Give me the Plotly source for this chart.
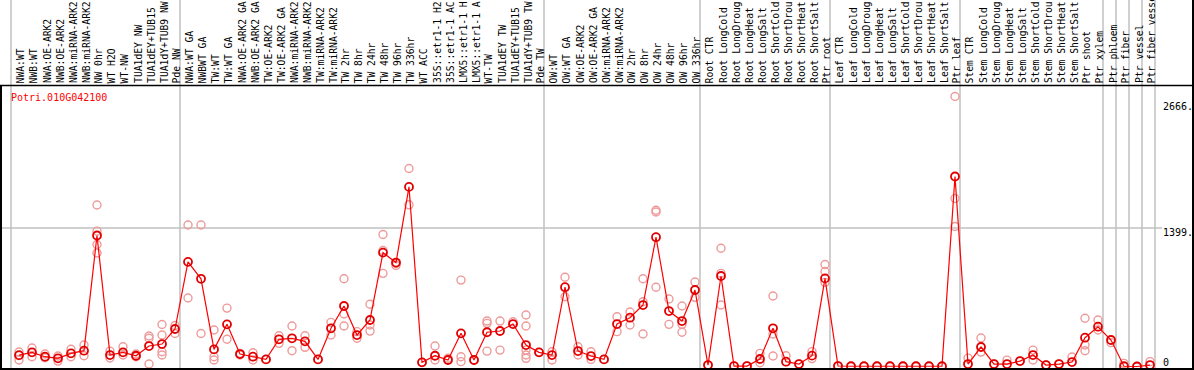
import plotly.graph_objects as go

W, H = 1194, 370

labels = [
    "NWA:WT", "NWB:WT", "NWA:OE-ARK2", "NWB:OE-ARK2", "NWA:miRNA-ARK2", "NWB:miRNA-ARK2",
    "NW 0hr", "WT H2O", "WT-NW", "TUA1dEY NW", "TUA1dEY+TUB15", "TUA1dY+TUB9 NW", "Pde NW",
    "NWA:WT GA", "NWBWT GA", "TW:WT", "TW:WT GA", "NWA:OE-ARK2 GA", "NWB:OE-ARK2 GA",
    "TW:OE-ARK2", "TW:OE-ARK2 GA", "NWA:miRNA-ARK2", "NWB:miRNA-ARK2", "TW:miRNA-ARK2",
    "TW:miRNA-ARK2", "TW 2hr", "TW 8hr", "TW 24hr", "TW 48hr", "TW 96hr", "TW 336hr",
    "WT ACC", "35S::etr1-1 H2", "35S::etr1-1 AC", "LMX5::etr1-1 H", "LMX5::etr1-1 A",
    "WT-TW", "TUA1dEY TW", "TUA1dEY+TUB15", "TUA1dY+TUB9 TW", "Pde TW",
    "OW:WT", "OW:WT GA", "OW:OE-ARK2", "OW:OE-ARK2 GA", "OW:miRNA-ARK2", "OW:miRNA-ARK2",
    "OW 2hr", "OW 8hr", "OW 24hr", "OW 48hr", "OW 96hr", "OW 336hr",
    "Root CTR", "Root LongCold", "Root LongDroug", "Root LongHeat", "Root LongSalt",
    "Root ShortCold", "Root ShortDrou", "Root ShortHeat", "Root ShortSalt", "Ptr root",
    "Leaf CTR", "Leaf LongCold", "Leaf LongDroug", "Leaf LongHeat", "Leaf LongSalt",
    "Leaf ShortCold", "Leaf ShortDrou", "Leaf ShortHeat", "Leaf ShortSalt", "Ptr leaf",
    "Stem CTR", "Stem LongCold", "Stem LongDroug", "Stem LongHeat", "Stem LongSalt",
    "Stem ShortCold", "Stem ShortDrou", "Stem ShortHeat", "Stem ShortSalt", "Ptr shoot",
    "Ptr xylem", "Ptr phloem", "Ptr fiber", "Ptr vessel", "Ptr fiber vessel",
]

means = [
    115, 143, 99, 83, 133, 160, 1323, 116, 143, 109, 207, 227, 379,
    1057, 886, 173, 426, 126, 99, 72, 275, 285, 254, 72, 386, 611, 318, 470, 1150, 1050, 1814,
    42, 109, 66, 335, 66, 346, 359, 429, 217, 143,
    116, 801, 156, 106, 72, 429, 493, 621, 1306, 560, 459, 773,
    15, 914, 5, 5, 76, 386, 49, 25, 110, 890,
    5, 3, 3, 3, 3, 3, 3, 3, 3, 1919,
    25, 197, 25, 25, 55, 116, 15, 25, 45, 291,
    402, 268, 3, 0, 15,
]

replicates = [
    [146, 66, 110], [187, 99], [126, 89], [106, 55], [174, 99], [217, 109],
    [1631, 1367, 1232, 1146], [156, 86], [200, 116], [126, 99], [308, 285, 25],
    [424, 318, 149, 116], [414, 333],
    [1429, 692], [1429, 333], [369, 99, 66], [590, 275], [133, 116], [139, 66], [72],
    [311, 234], [409, 160], [311, 194], [72], [446, 318], [886, 530, 409], [352, 285],
    [629, 419, 358], [1333, 941, 1171], [1020, 1040], [2000, 1633],
    [42], [207, 66], [83], [873, 99, 49], [66], [459, 436, 156], [459, 166], [452],
    [520, 409, 166, 116, 83], [143],
    [149, 66], [902, 705], [200, 116], [149, 72], [72], [503, 352], [551, 419],
    [886, 654, 328], [1578, 1561, 801], [682, 426], [611, 426, 346], [853, 699],
    [15], [1195, 941, 621], [5], [5], [133, 38], [712, 106, 328], [109], [25],
    [150, 80], [1030, 960, 850],
    [8], [3], [3], [3], [3], [3], [3], [3], [3], [2727, 1697, 1414],
    [85], [288, 146], [25], [65], [55], [166, 66], [15], [25], [96],
    [487, 217, 160], [470, 369], [241], [32], [0], [49],
]

group_bounds = [0, 13, 41, 53, 63, 73, 84, 85, 86, 87, 88]
y_ticks = [2666, 1399, 0]
y_tick_text = ["2666.", "1399.", "0"]
gene = "Potri.010G042100"

FONT = "DejaVu Sans Mono"

def ppx(x):
    return x / W

def ppy(y):
    return (H - y) / H

rx, ry = [], []
for i, reps in enumerate(replicates):
    for v in reps:
        rx.append(i)
        ry.append(v)

fig = go.Figure()
fig.add_trace(go.Scatter(
    x=rx, y=ry, mode="markers",
    marker=dict(symbol="circle-open", size=8, color="#ee9a9a", line=dict(width=1.4, color="#ee9a9a")),
    hoverinfo="skip", showlegend=False, cliponaxis=False,
))
fig.add_trace(go.Scatter(
    x=list(range(len(means))), y=means, mode="lines+markers",
    line=dict(color="#ff0000", width=1.2),
    marker=dict(symbol="circle-open", size=8, color="#e00000", line=dict(width=1.8, color="#e00000")),
    showlegend=False, cliponaxis=False,
))

shapes = []
for b in group_bounds:
    shapes.append(dict(type="line", xref="x", yref="paper", x0=b - 8 / 13, x1=b - 8 / 13,
                       y0=0, y1=1, line=dict(color="#c0c0c0", width=1.5), layer="below"))
shapes.append(dict(type="line", xref="paper", yref="y", x0=ppx(1), x1=ppx(1162),
                   y0=y_ticks[1], y1=y_ticks[1], line=dict(color="#c0c0c0", width=1.5), layer="below"))
shapes.append(dict(type="line", xref="paper", yref="paper", x0=0, x1=1, y0=ppy(85.5), y1=ppy(85.5),
                   line=dict(color="black", width=1.5)))
shapes.append(dict(type="line", xref="paper", yref="paper", x0=0, x1=1, y0=ppy(369), y1=ppy(369),
                   line=dict(color="black", width=2)))
shapes.append(dict(type="line", xref="paper", yref="paper", x0=ppx(1), x1=ppx(1), y0=0, y1=ppy(85.5),
                   line=dict(color="black", width=2)))
shapes.append(dict(type="line", xref="paper", yref="paper", x0=ppx(1193), x1=ppx(1193), y0=0, y1=1,
                   line=dict(color="black", width=2)))

annotations = []
for i, lab in enumerate(labels):
    annotations.append(dict(x=i + 0.15, xref="x", y=ppy(84), yref="paper", text=lab, showarrow=False,
                            textangle=-90, xanchor="center", yanchor="bottom",
                            font=dict(family=FONT, size=9.7, color="black"), borderpad=0))
for v, t in zip(y_ticks, y_tick_text):
    shift = 4.5 if v == 0 else -4
    annotations.append(dict(x=ppx(1161), xref="paper", y=v, yref="y", text=t, showarrow=False,
                            xanchor="left", yanchor="middle", yshift=shift,
                            font=dict(family=FONT, size=10, color="black")))
annotations.append(dict(x=ppx(9), xref="paper", y=ppy(97), yref="paper", text=gene, showarrow=False,
                        xanchor="left", yanchor="middle",
                        font=dict(family=FONT, size=10, color="#ff0000")))

fig.update_layout(
    width=W, height=H,
    margin=dict(l=0, r=0, t=0, b=0, pad=0),
    paper_bgcolor="white", plot_bgcolor="white",
    xaxis=dict(domain=[ppx(1), ppx(1193)], range=[(1 - 19) / 13, (1193 - 19) / 13],
               showgrid=False, zeroline=False, showticklabels=False, ticks="", fixedrange=True),
    yaxis=dict(domain=[ppy(369), ppy(86)], range=[-25, 2833],
               showgrid=False, zeroline=False, showticklabels=False, ticks="", fixedrange=True),
    shapes=shapes, annotations=annotations,
)

fig.write_html("out.html", config={"displayModeBar": False},
               post_script="document.body.style.margin='0';document.body.style.overflow='hidden';")
